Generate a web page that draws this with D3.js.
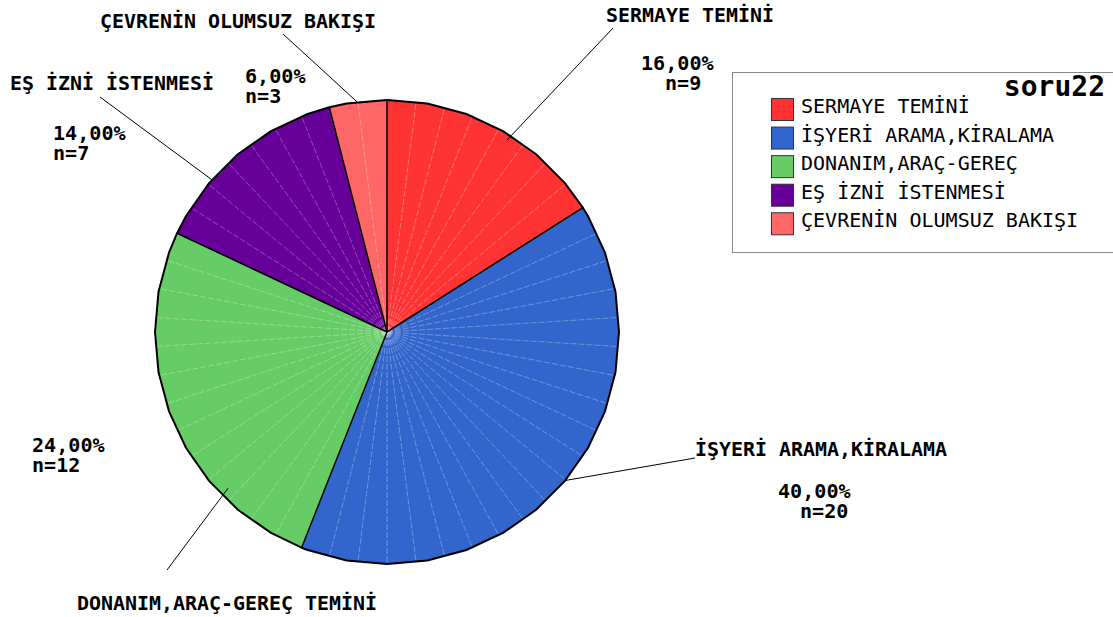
<!DOCTYPE html>
<html lang="en">
<head>
    <meta charset="UTF-8">
    <title>soru22</title>
    <script src="https://cdnjs.cloudflare.com/ajax/libs/d3/7.8.5/d3.min.js"></script>
    <style>
        body { margin: 0; padding: 0; background: #fff; }
        text { font-family: "DejaVu Sans Mono", monospace; }
        .lbl { font-weight: bold; font-size: 19px; fill: #000; }
        .leg { font-size: 19px; fill: #000; }
    </style>
</head>
<body>
<div id="chart"></div>
<script>
    // data
    const categories = ['SERMAYE TEMİNİ', 'İŞYERİ ARAMA,KİRALAMA', 'DONANIM,ARAÇ-GEREÇ', 'EŞ İZNİ İSTENMESİ', 'ÇEVRENİN OLUMSUZ BAKIŞI'];
    const sliceLabels = ['SERMAYE TEMİNİ', 'İŞYERİ ARAMA,KİRALAMA', 'DONANIM,ARAÇ-GEREÇ TEMİNİ', 'EŞ İZNİ İSTENMESİ', 'ÇEVRENİN OLUMSUZ BAKIŞI'];
    const cases = [8, 20, 13, 7, 2];             // slice sizes as drawn (one facet per case)
    const counts = [9, 20, 12, 7, 3];            // n labels as printed
    const percents = ['16,00%', '40,00%', '24,00%', '14,00%', '6,00%'];
    const colors = ['#ff3333', '#3366cc', '#66cc66', '#660099', '#ff6666'];
    const title = 'soru22';

    const width = 1113, height = 617;
    const cx = 387, cy = 332, r = 232;

    const svg = d3.select('#chart').append('svg')
        .attr('width', width)
        .attr('height', height);

    const pie = d3.pie().sort(null).sortValues(null).value(d => d)(cases);
    const total = d3.sum(cases);

    // point on the pie edge, angle 0 = 12 o'clock, clockwise
    const pt = (a, rr) => [cx + rr * Math.sin(a), cy - rr * Math.cos(a)];

    const step = 2 * Math.PI / 36;          // outline polygon segment
    const caseStep = 2 * Math.PI / total;   // one facet per case
    const g = svg.append('g');

    pie.forEach((d, i) => {
        // polygon vertices for this slice
        const verts = [d.startAngle];
        let a = Math.ceil(d.startAngle / step + 1e-6) * step;
        while (a < d.endAngle - 1e-6) { verts.push(a); a += step; }
        verts.push(d.endAngle);

        const pts = [[cx, cy]].concat(verts.map(v => pt(v, r)));
        g.append('polygon')
            .attr('points', pts.map(p => p.join(',')).join(' '))
            .attr('fill', colors[i])
            .attr('stroke', colors[i])
            .attr('stroke-width', 0.5);

        // faint facet lines, one per case
        for (let k = 1; k < d.value; k++) {
            const ang = d.startAngle + k * caseStep;
            g.append('line')
                .attr('x1', cx).attr('y1', cy)
                .attr('x2', pt(ang, r - 1)[0]).attr('y2', pt(ang, r - 1)[1])
                .attr('stroke', '#fff')
                .attr('stroke-opacity', 0.3)
                .attr('stroke-width', 1)
                .attr('stroke-dasharray', '6,2');
        }

        d.verts = verts;
    });

    // outline
    pie.forEach(d => {
        const p = pt(d.startAngle, r);
        g.append('line')
            .attr('x1', cx).attr('y1', cy)
            .attr('x2', p[0]).attr('y2', p[1])
            .attr('stroke', '#000')
            .attr('stroke-width', 1.5);
    });
    const allVerts = [];
    pie.forEach(d => d.verts.slice(0, -1).forEach(v => allVerts.push(pt(v, r))));
    g.append('polygon')
        .attr('points', allVerts.map(p => p.join(',')).join(' '))
        .attr('fill', 'none')
        .attr('stroke', '#000')
        .attr('stroke-width', 2)
        .attr('stroke-linejoin', 'round');

    // labels layout: name position, leader end, leader angle/radius, percent position
    const layout = [
        { nx: 606, ny: 22, lx: 613, ly: 28, ang: 32, rr: 0.975, px: 641, py: 70, nAlign: 665 },
        { nx: 695, ny: 456, lx: 695, ly: 458, ang: 129.8, rr: 1.0, px: 778, py: 498, nAlign: 800 },
        { nx: 77, ny: 610, lx: 167, ly: 570, ang: 225.5, rr: 0.96, px: 32, py: 452, nAlign: 32 },
        { nx: 10, ny: 90, lx: 100, ly: 97, ang: 311, rr: 1.0, px: 53, py: 140, nAlign: 53 },
        { nx: 100, ny: 28, lx: 283, ly: 34, ang: 352.6, rr: 1.0, px: 245, py: 83, nAlign: 245 }
    ];

    pie.forEach((d, i) => {
        const L = layout[i];
        const s = pt(L.ang * Math.PI / 180, r * L.rr);
        svg.append('line')
            .attr('x1', s[0]).attr('y1', s[1])
            .attr('x2', L.lx).attr('y2', L.ly)
            .attr('stroke', '#000')
            .attr('stroke-width', 1);
        svg.append('text').attr('class', 'lbl')
            .attr('x', L.nx).attr('y', L.ny)
            .attr('textLength', sliceLabels[i].length * 12)
            .attr('lengthAdjust', 'spacingAndGlyphs')
            .text(sliceLabels[i]);
        svg.append('text').attr('class', 'lbl')
            .attr('x', L.px).attr('y', L.py)
            .attr('textLength', percents[i].length * 12.1)
            .attr('lengthAdjust', 'spacingAndGlyphs')
            .text(percents[i]);
        const nt = 'n=' + counts[i];
        svg.append('text').attr('class', 'lbl')
            .attr('x', L.nAlign).attr('y', L.py + 20)
            .attr('textLength', nt.length * 12.1)
            .attr('lengthAdjust', 'spacingAndGlyphs')
            .text(nt);
    });

    // legend
    const leg = svg.append('g');
    leg.append('rect')
        .attr('x', 732.5).attr('y', 72.5)
        .attr('width', 400).attr('height', 180)
        .attr('fill', '#fff')
        .attr('stroke', '#888')
        .attr('stroke-width', 1);
    leg.append('text')
        .attr('x', 1105).attr('y', 96)
        .attr('text-anchor', 'end')
        .style('font-size', '28px')
        .style('font-weight', 'bold')
        .text(title);

    const ly = d3.scaleBand().domain(categories).range([98, 236]).paddingInner(0.17);
    categories.forEach((c, i) => {
        leg.append('rect')
            .attr('x', 771.5).attr('y', ly(c) + 0.5)
            .attr('width', 22).attr('height', 22)
            .attr('fill', colors[i])
            .attr('stroke', '#333')
            .attr('stroke-width', 1);
        leg.append('text').attr('class', 'leg')
            .attr('x', 801).attr('y', ly(c) + 15)
            .attr('textLength', c.length * 12.05)
            .attr('lengthAdjust', 'spacingAndGlyphs')
            .text(c);
    });
</script>
</body>
</html>
